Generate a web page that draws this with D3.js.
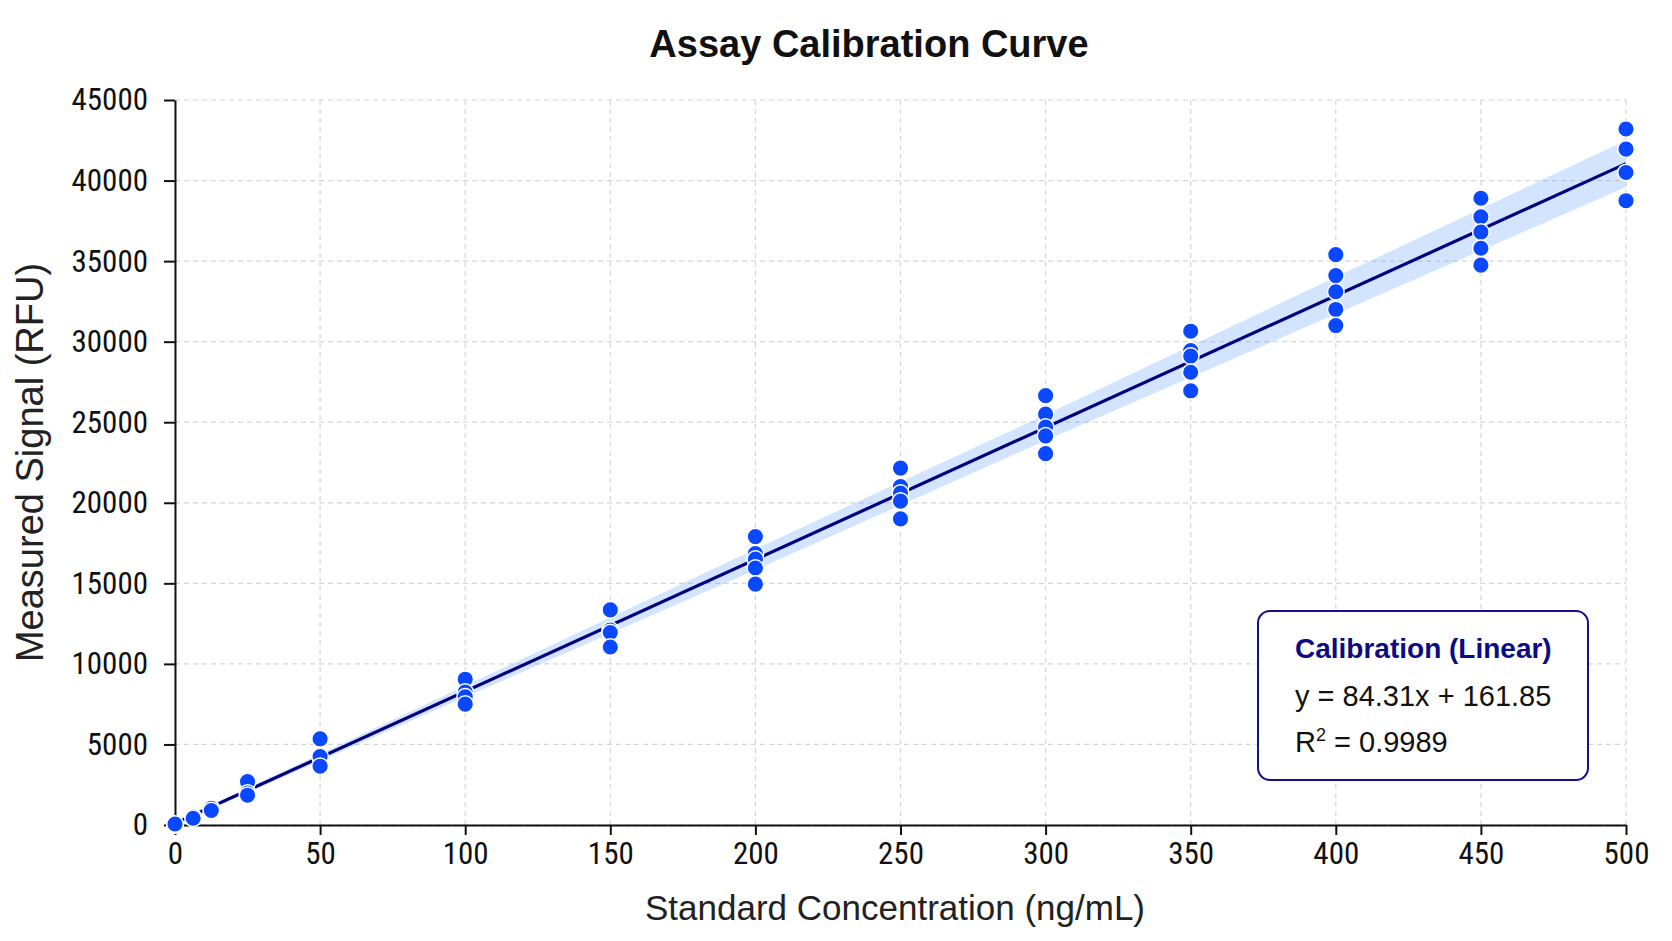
<!DOCTYPE html>
<html>
<head>
<meta charset="utf-8">
<script src="https://cdn.jsdelivr.net/npm/d3@7"></script>
<style>
  html, body { margin: 0; padding: 0; background: #ffffff; }
  svg { display: block; }
</style>
</head>
<body>
<div id="chart"></div>
<script>
// Standard concentrations (ng/mL) and replicate signals (RFU)
const concentrations = [0, 6.25, 12.5, 25, 50, 100, 150, 200, 250, 300, 350, 400, 450, 500];
const replicateSignals = [
  [0, 60],
  [500, 420],
  [1040, 900],
  [2690, 1990, 1850],
  [5350, 4250, 3650],
  [9050, 8250, 7950, 7500],
  [13350, 12100, 11950, 11050],
  [17900, 16850, 16500, 15950, 14950],
  [22150, 21000, 20600, 20100, 19000],
  [26650, 25500, 24700, 24150, 23050],
  [30650, 29450, 29100, 28100, 26950],
  [35400, 34100, 33100, 32000, 31000],
  [38900, 37750, 36800, 35800, 34750],
  [43200, 41950, 40500, 38750],
];

// Fitted line as drawn, and the shaded band around it
const fitConc = [0, 500];
const fitSignal = [100, 41050];
const bandConc = [0, 100, 200, 300, 400, 500];
const bandUpper = [180, 8640, 17130, 25470, 34010, 42500];
const bandLower = [20, 7940, 15830, 23870, 31710, 39600];

const xTicks = [0, 50, 100, 150, 200, 250, 300, 350, 400, 450, 500];
const yTicks = [0, 5000, 10000, 15000, 20000, 25000, 30000, 35000, 40000, 45000];

const legendLines = ["Calibration (Linear)", "y = 84.31x + 161.85", "R", "2", " = 0.9989"];

const W = 1672, H = 941;
const margin = { top: 100, right: 46, bottom: 116, left: 175 };
const tickFont = "'Liberation Sans Narrow', 'Roboto Condensed', 'DejaVu Sans Condensed', sans-serif";
const labelFont = "'Liberation Sans', Arial, sans-serif";

const svg = d3.select("#chart")
  .append("svg")
  .attr("width", W)
  .attr("height", H);

const x = d3.scaleLinear().domain([0, 500]).range([margin.left, W - margin.right]);
const y = d3.scaleLinear().domain([0, 45000]).range([H - margin.bottom, margin.top]);

// Grid
const grid = svg.append("g").attr("stroke", "#d6d6d6").attr("stroke-width", 1.2).attr("stroke-dasharray", "5,4");
grid.selectAll(".vg").data(xTicks).enter().append("line")
  .attr("x1", d => x(d)).attr("x2", d => x(d))
  .attr("y1", y(0)).attr("y2", y(45000));
grid.selectAll(".hg").data(yTicks).enter().append("line")
  .attr("x1", x(0)).attr("x2", x(500))
  .attr("y1", d => y(d)).attr("y2", d => y(d));

// Band
const bandData = bandConc.map((c, i) => ({ c, lo: bandLower[i], hi: bandUpper[i] }));
svg.append("path")
  .datum(bandData)
  .attr("fill", "#5b9bff")
  .attr("fill-opacity", 0.27)
  .attr("d", d3.area().x(d => x(d.c)).y0(d => y(d.lo)).y1(d => y(d.hi)));

// Fit line
svg.append("path")
  .datum(fitConc.map((c, i) => [c, fitSignal[i]]))
  .attr("fill", "none")
  .attr("stroke", "#00007f")
  .attr("stroke-width", 3.2)
  .attr("d", d3.line().x(d => x(d[0])).y(d => y(d[1])));

// Axes
const xAxis = svg.append("g")
  .attr("transform", `translate(0,${y(0)})`)
  .call(d3.axisBottom(x).tickValues(xTicks).tickSize(10).tickSizeOuter(0).tickPadding(7));
const yAxis = svg.append("g")
  .attr("transform", `translate(${x(0)},0)`)
  .call(d3.axisLeft(y).tickValues(yTicks).tickSize(11).tickSizeOuter(0).tickPadding(16).tickFormat(d3.format("d")));

[xAxis, yAxis].forEach(a => {
  a.select(".domain").attr("stroke", "#111").attr("stroke-width", 2);
  a.selectAll(".tick line").attr("stroke", "#111").attr("stroke-width", 2);
  a.selectAll(".tick text")
    .attr("fill", "#111")
    .style("font-family", tickFont)
    .style("font-size", "31px");
});

// Points
const points = [];
concentrations.forEach((c, i) => replicateSignals[i].forEach(v => points.push({ c, v })));
svg.selectAll(".dot")
  .data(points)
  .enter()
  .append("circle")
  .attr("cx", d => x(d.c))
  .attr("cy", d => y(d.v))
  .attr("r", 8.3)
  .attr("fill", "#0a48ff")
  .attr("stroke", "#ffffff")
  .attr("stroke-width", 1.5);

// Title and axis labels
svg.append("text")
  .attr("x", 869)
  .attr("y", 57)
  .attr("text-anchor", "middle")
  .attr("fill", "#111")
  .style("font-family", labelFont)
  .style("font-weight", "bold")
  .style("font-size", "38px")
  .text("Assay Calibration Curve");

svg.append("text")
  .attr("x", 895)
  .attr("y", 920)
  .attr("text-anchor", "middle")
  .attr("fill", "#222")
  .style("font-family", labelFont)
  .style("font-size", "35px")
  .text("Standard Concentration (ng/mL)");

svg.append("text")
  .attr("transform", `translate(43,${(y(0) + y(45000)) / 2}) rotate(-90)`)
  .attr("text-anchor", "middle")
  .attr("fill", "#222")
  .style("font-family", labelFont)
  .style("font-size", "38px")
  .text("Measured Signal (RFU)");

// Legend box
const lg = svg.append("g").attr("transform", "translate(1258,611)");
lg.append("rect")
  .attr("width", 330)
  .attr("height", 169)
  .attr("rx", 12)
  .attr("fill", "#ffffff")
  .attr("stroke", "#12128a")
  .attr("stroke-width", 2);
lg.append("text")
  .attr("x", 37).attr("y", 47)
  .attr("fill", "#0b0b85")
  .style("font-family", labelFont)
  .style("font-weight", "bold")
  .style("font-size", "28px")
  .text(legendLines[0]);
lg.append("text")
  .attr("x", 37).attr("y", 95)
  .attr("fill", "#111")
  .style("font-family", labelFont)
  .style("font-size", "29px")
  .text(legendLines[1]);
const r2 = lg.append("text")
  .attr("x", 37).attr("y", 141)
  .attr("fill", "#111")
  .style("font-family", labelFont)
  .style("font-size", "29px");
r2.append("tspan").text(legendLines[2]);
r2.append("tspan").attr("dy", -11).style("font-size", "18px").text(legendLines[3]);
r2.append("tspan").attr("dy", 11).text(legendLines[4]);
</script>
</body>
</html>
